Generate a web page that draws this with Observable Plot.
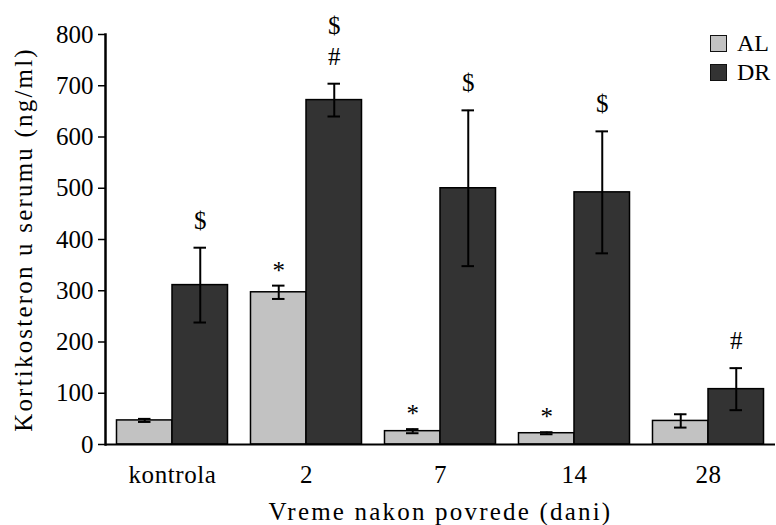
<!DOCTYPE html>
<html>
<head>
<meta charset="utf-8">
<script src="https://cdn.jsdelivr.net/npm/d3@7"></script>
<script src="https://cdn.jsdelivr.net/npm/@observablehq/plot@0.6"></script>
<style>
  html, body { margin: 0; padding: 0; background: white; }
  #wrap { position: relative; width: 776px; height: 525px; font-family: "Liberation Serif", serif; }
  #legend { position: absolute; left: 710px; top: 29px; font-size: 24px; line-height: 29px; color: black; }
  #legend .row { display: flex; align-items: center; height: 29px; }
  #legend .sw { width: 15px; height: 15px; border: 1.5px solid #111; margin-right: 10px; }
  g[aria-label="y-axis label"] text { letter-spacing: 2.2px; }
  g[aria-label="fx-axis label"] text { letter-spacing: 2.2px; }
  g[aria-label="fx-axis tick label"] text { letter-spacing: 0.6px; }
</style>
</head>
<body>
<div id="wrap"><div id="legend"></div></div>
<script>
const categories = ["kontrola", "2", "7", "14", "28"];
const series = ["AL", "DR"];
const seriesColors = ["#c2c2c2", "#333333"];
const alMean = [47, 297, 26, 22, 46];
const alErr = [3, 13, 4, 2, 13];
const drMean = [311, 672, 500, 492, 108];
const drErr = [73, 32, 152, 119, 41];
const alMarks = ["", "*", "*", "*", ""];
const drMarks = ["$", "$\n#", "$", "$", "#"];
const yTicks = [0, 100, 200, 300, 400, 500, 600, 700, 800];
const yLabel = "Kortikosteron u serumu (ng/ml)";
const xLabel = "Vreme nakon povrede (dani)";

const rows = categories.flatMap((c, i) => [
  {category: c, series: "AL", mean: alMean[i], err: alErr[i], mark: alMarks[i]},
  {category: c, series: "DR", mean: drMean[i], err: drErr[i], mark: drMarks[i]}
]);
const hi = d => d.mean + d.err;
const lo = d => d.mean - d.err;

const chart = Plot.plot({
  width: 776,
  height: 525,
  marginLeft: 105,
  marginRight: 1,
  marginTop: 34,
  marginBottom: 81,
  style: {fontFamily: "Liberation Serif, serif", fontSize: "25px", color: "black", background: "white", overflow: "visible"},
  fx: {domain: categories, padding: 0, round: false},
  x: {domain: series, paddingInner: 0, paddingOuter: 0.207, round: false, axis: null},
  y: {domain: [0, 800], axis: null},
  color: {domain: series, range: seriesColors},
  marks: [
    Plot.barY(rows, {fx: "category", x: "series", y: "mean", fill: "series", stroke: "black", strokeWidth: 1.5}),
    Plot.ruleX(rows, {fx: "category", x: "series", y1: lo, y2: hi, stroke: "black", strokeWidth: 2}),
    Plot.tickY(rows, {fx: "category", x: "series", y: hi, insetLeft: 21.5, insetRight: 21.5, stroke: "black", strokeWidth: 2}),
    Plot.tickY(rows, {fx: "category", x: "series", y: lo, insetLeft: 21.5, insetRight: 21.5, stroke: "black", strokeWidth: 2}),
    Plot.text(rows.filter(d => d.mark && d.mark !== "*"), {fx: "category", x: "series", y: hi, text: "mark", lineAnchor: "bottom", lineHeight: 1.24, dy: -19, fill: "black"}),
    Plot.text(rows.filter(d => d.mark === "*"), {fx: "category", x: "series", y: hi, text: "mark", lineAnchor: "bottom", dy: -7, fill: "black"}),
    Plot.ruleY([0], {stroke: "black", strokeWidth: 2}),
    Plot.frame({anchor: "left", facetAnchor: "left", stroke: "black", strokeWidth: 2.5}),
    Plot.axisY({ticks: yTicks, tickSize: 7, tickPadding: 5, strokeWidth: 1.5, label: yLabel, labelAnchor: "center", labelArrow: "none", labelOffset: 91}),
    Plot.axisFx({anchor: "bottom", tickSize: 0, tickPadding: 21, label: xLabel, labelAnchor: "center", labelArrow: "none", labelOffset: 75})
  ]
});
const wrap = document.getElementById("wrap");
wrap.insertBefore(chart, wrap.firstChild);

const legend = document.getElementById("legend");
series.forEach((s, i) => {
  const row = document.createElement("div");
  row.className = "row";
  const sw = document.createElement("span");
  sw.className = "sw";
  sw.style.background = seriesColors[i];
  const lab = document.createElement("span");
  lab.textContent = s;
  row.appendChild(sw);
  row.appendChild(lab);
  legend.appendChild(row);
});
</script>
</body>
</html>
